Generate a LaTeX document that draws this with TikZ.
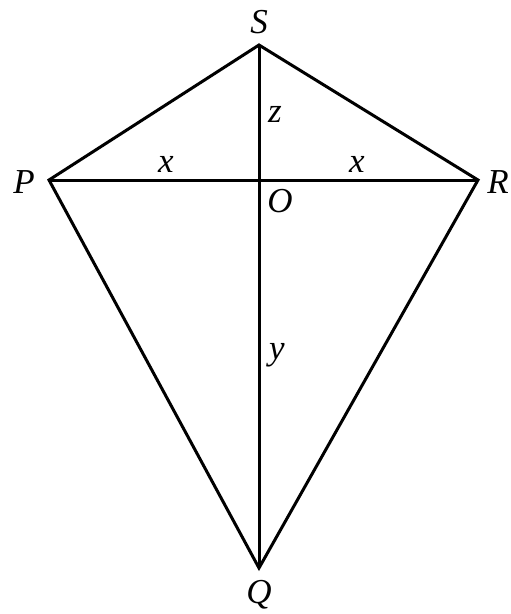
\documentclass[tikz,border=0pt]{standalone}
\usepackage{fontspec}
\setmainfont{Liberation Serif}
\tikzset{
  edge/.style={line width=3pt, line join=miter, black},
  lbl/.style={font=\fontsize{35}{35}\selectfont\itshape, inner sep=0pt, anchor=base}
}
\begin{document}
\begin{tikzpicture}[x=1pt,y=-1pt]
\useasboundingbox (0,0) rectangle (511,614);
\coordinate (S) at (259,45);
\coordinate (P) at (49,180);
\coordinate (R) at (478,180);
\coordinate (Q) at (259,568);
\coordinate (O) at (259,180);
\draw[edge] (S) -- (R) -- (Q) -- (P) -- cycle;
\draw[edge] (P) -- (R);
\draw[edge] (S) -- (Q);
\node[lbl] (lS) at (259,33) {S};
\node[lbl] (lP) at (24,193) {P};
\node[lbl] (lR) at (498,193) {R};
\node[lbl] (lQ) at (259,603) {Q};
\node[lbl] (lO) at (280,212) {O};
\node[lbl] (lz) at (275,122) {z};
\node[lbl] (lx1) at (166,172) {x};
\node[lbl] (lx2) at (357,172) {x};
\node[lbl] (ly) at (277,359) {y};
\end{tikzpicture}
\end{document}
